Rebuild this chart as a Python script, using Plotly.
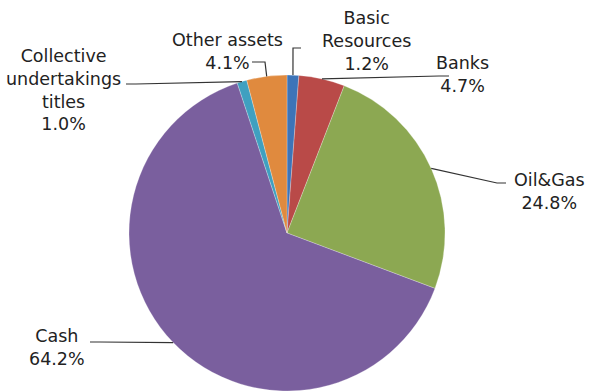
import math
import plotly.graph_objects as go

# ---- data ----
labels = ["Basic Resources", "Banks", "Oil&Gas", "Cash", "Collective undertakings titles", "Other assets"]
values = [1.2, 4.7, 24.8, 64.2, 1.0, 4.1]
label_text = [
    "Basic<br>Resources<br>1.2%",
    "Banks<br>4.7%",
    "Oil&Gas<br>24.8%",
    "Cash<br>64.2%",
    "Collective<br>undertakings<br>titles<br>1.0%",
    "Other assets<br>4.1%",
]
colors = ["#3d74b8", "#b94a48", "#8ca852", "#7a5f9e", "#3fa0c0", "#e08a3e"]

# ---- layout (pixels) ----
W, H = 590, 391
CX, CY, R = 287, 233, 158
# label center positions and leader elbow points (label side)
label_pos = [(366, 41), (462, 75), (549, 191), (57, 347), (63, 90), (227, 51)]
elbows = [
    [(301, 48), (293, 48)],
    [(449, 76), (439, 76)],
    [(506, 183), (497, 183)],
    [(90, 342), (100, 342)],
    [(126, 84), (136, 84)],
    [(252, 62), (265, 62)],
]

def px(x):
    return x / W

def py(y):
    return 1 - y / H

fig = go.Figure(
    go.Pie(
        labels=labels,
        values=values,
        sort=False,
        direction="clockwise",
        rotation=0,
        marker=dict(colors=colors, line=dict(color="rgba(255,255,255,0.5)", width=0.5)),
        textinfo="none",
        hoverinfo="label+percent",
        showlegend=False,
        domain=dict(x=[px(CX - R), px(CX + R)], y=[py(CY + R), py(CY - R)]),
    )
)

total = sum(values)
cum = 0.0
shapes = []
annotations = []
for i, v in enumerate(values):
    mid = (cum + v / 2) / total * 2 * math.pi
    cum += v
    ex = CX + R * math.sin(mid)
    ey = CY - R * math.cos(mid)
    pts = elbows[i] + [(ex, ey)]
    path = "M " + " L ".join(f"{px(x):.5f},{py(y):.5f}" for x, y in pts)
    shapes.append(dict(type="path", xref="paper", yref="paper", path=path,
                       line=dict(color="#333333", width=1.2)))
    lx, ly = label_pos[i]
    annotations.append(dict(x=px(lx), y=py(ly), xref="paper", yref="paper",
                            text=label_text[i], showarrow=False,
                            xanchor="center", yanchor="middle", align="center",
                            font=dict(family="DejaVu Sans, sans-serif", size=17.5, color="#222222")))

fig.update_layout(
    width=W, height=H,
    margin=dict(l=0, r=0, t=0, b=0),
    paper_bgcolor="white",
    plot_bgcolor="white",
    shapes=shapes,
    annotations=annotations,
)

fig.write_html("out.html")
